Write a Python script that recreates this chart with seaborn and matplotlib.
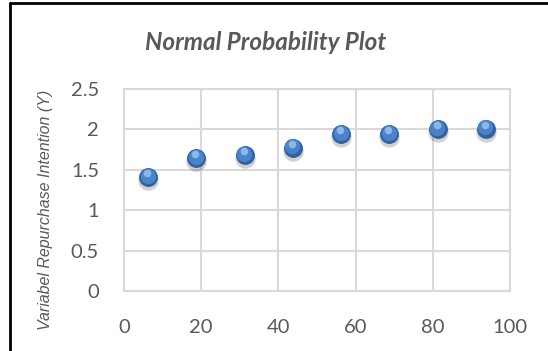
import matplotlib
matplotlib.use("Agg")
import matplotlib.pyplot as plt
import matplotlib.transforms as mtransforms
import seaborn as sns
import pandas as pd

percentile = [6.25, 18.75, 31.25, 43.75, 56.25, 68.75, 81.25, 93.75]
intention = [1.41, 1.64, 1.68, 1.77, 1.94, 1.94, 2.00, 2.01]
x_ticks = [0, 20, 40, 60, 80, 100]
y_ticks = [0, 0.5, 1, 1.5, 2, 2.5]
y_tick_labels = ["0", "0.5", "1", "1.5", "2", "2.5"]

df = pd.DataFrame({"p": percentile, "y": intention})

sns.set_theme(style="white")
plt.rcParams['font.family'] = ['Lato', 'DejaVu Sans']

fig = plt.figure(figsize=(5.48, 3.51), dpi=100)
ax = fig.add_axes([0.2263, 0.171, 0.7044, 0.5754])

grid_c = "#D9D9D9"
text_c = "#595959"

# shadow
shadow = mtransforms.offset_copy(ax.transData, fig=fig, x=0, y=-3, units='dots')
sns.scatterplot(data=df, x="p", y="y", ax=ax, s=215, color="#000000", alpha=0.18,
                linewidth=0, transform=shadow, zorder=3, legend=False)
# main sphere
sns.scatterplot(data=df, x="p", y="y", ax=ax, s=185, color="#2E63A6",
                linewidth=0, zorder=4, legend=False)
mid = mtransforms.offset_copy(ax.transData, fig=fig, x=-0.5, y=1.5, units='dots')
sns.scatterplot(data=df, x="p", y="y", ax=ax, s=120, color="#4A84C8",
                linewidth=0, transform=mid, zorder=5, legend=False)
hi = mtransforms.offset_copy(ax.transData, fig=fig, x=-1, y=4, units='dots')
sns.scatterplot(data=df, x="p", y="y", ax=ax, s=30, color="#9CC0EA", alpha=0.85,
                linewidth=0, transform=hi, zorder=6, legend=False)

ax.set_xlim(0, 100)
ax.set_ylim(0, 2.5)
ax.set_xticks(x_ticks)
ax.set_yticks(y_ticks)
ax.set_yticklabels(y_tick_labels)
ax.grid(True, color=grid_c, linewidth=1.5)
ax.set_axisbelow(True)
for sp in ax.spines.values():
    sp.set_color(grid_c)
    sp.set_linewidth(1.5)
ax.tick_params(axis='both', length=0, colors=text_c, labelsize=14.5)
ax.tick_params(axis='x', pad=20)
ax.tick_params(axis='y', pad=18)

ax.set_xlabel("")
ax.set_ylabel("Variabel Repurchase Intention (Y)", fontsize=11.5, style='italic',
              color=text_c, family=['Liberation Sans', 'DejaVu Sans'])
ax.yaxis.set_label_coords(-0.184, 0.40)

fig.text(0.485, 0.88, "Normal Probability Plot", ha='center', va='center',
         fontsize=17.5, fontweight='bold', style='italic', color=text_c)

# outer frame (left and top)
fig.add_artist(plt.Line2D([0.018, 0.018], [0, 0.992], transform=fig.transFigure,
                          color="black", linewidth=2))
fig.add_artist(plt.Line2D([0.018, 1], [0.992, 0.992], transform=fig.transFigure,
                          color="black", linewidth=2))

fig.savefig("out.png", dpi=100)
